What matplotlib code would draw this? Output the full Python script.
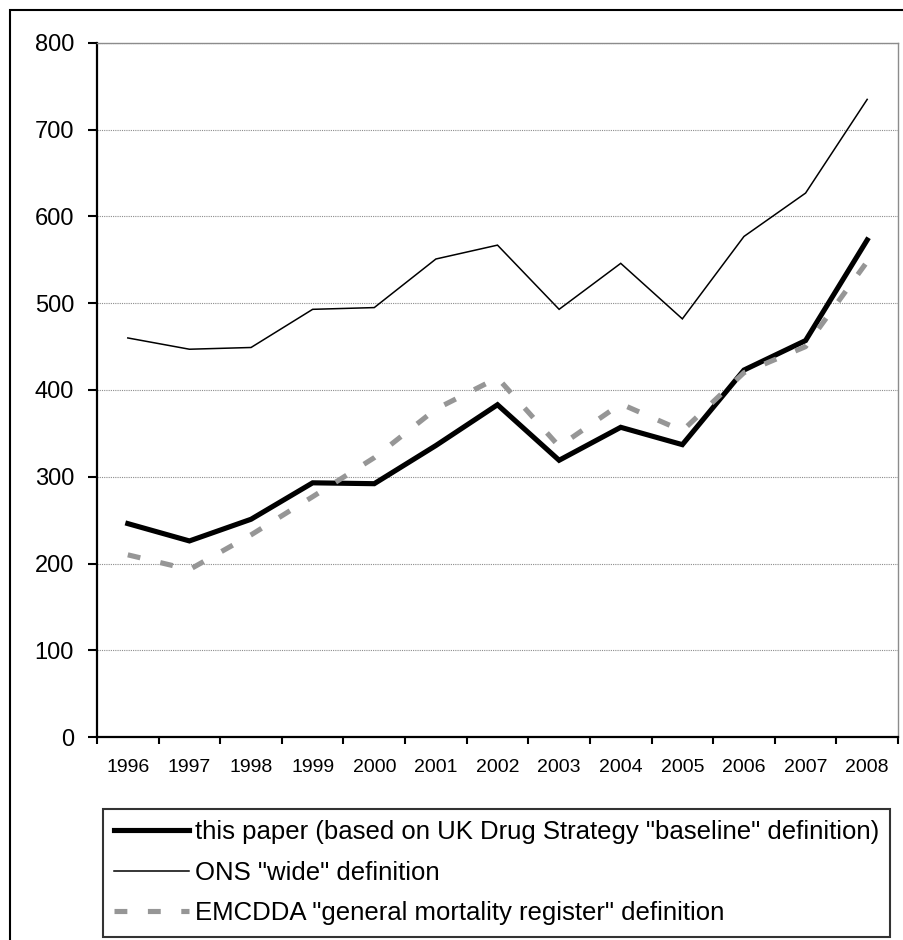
import matplotlib
matplotlib.use("Agg")
import matplotlib.pyplot as plt
from matplotlib.patches import Rectangle

years = ["1996", "1997", "1998", "1999", "2000", "2001", "2002",
         "2003", "2004", "2005", "2006", "2007", "2008"]
this_paper = [246, 226, 251, 293, 292, 336, 383, 319, 357, 337, 423, 457, 573]
ons_wide = [460, 447, 449, 493, 495, 551, 567, 493, 546, 482, 577, 627, 735]
emcdda = [210, 193, 233, 277, 322, 378, 414, 335, 384, 353, 420, 450, 548]

labels = ['this paper (based on UK Drug Strategy "baseline" definition)',
          'ONS "wide" definition',
          'EMCDDA "general mortality register" definition']

plt.rcParams['font.family'] = ['Liberation Sans', 'DejaVu Sans']

W, H = 904, 940
fig = plt.figure(figsize=(W / 100, H / 100), dpi=100)

# outer chart-area border (left and top visible)
fig.patches.append(Rectangle((10 / W, -0.1), 1.2, 1.1 - 10 / H,
                             transform=fig.transFigure, fill=False,
                             edgecolor='black', linewidth=1.5))

ax = fig.add_axes([97 / W, (H - 737) / H, (898 - 97) / W, (737 - 43) / H])

x = list(range(len(years)))
l1, = ax.plot(x, this_paper, color='black', linewidth=3.7,
              solid_joinstyle='miter', label=labels[0], zorder=4)
l2, = ax.plot(x, ons_wide, color='black', linewidth=1.1,
              solid_joinstyle='miter', label=labels[1], zorder=3)
l3, = ax.plot(x, emcdda, color='#969696', linewidth=3.7,
              dashes=(2.5, 4.0), dash_capstyle='butt', label=labels[2], zorder=5)

ax.set_xlim(-0.5, len(years) - 0.5)
ax.set_ylim(0, 800)

ax.set_yticks(range(0, 801, 100))
ax.set_yticklabels([str(v) for v in range(0, 801, 100)], fontsize=17)
ax.tick_params(axis='y', direction='out', length=6.5, width=1.5, pad=10)

ax.set_xticks([i - 0.5 for i in range(len(years) + 1)])
ax.set_xticklabels([])
ax.set_xticks(x, minor=True)
ax.set_xticklabels(years, minor=True, fontsize=14)
ax.tick_params(axis='x', which='major', direction='out', length=5, width=1.5)
ax.tick_params(axis='x', which='minor', length=0, pad=16)

ax.yaxis.grid(True, color='#8c8c8c', linewidth=0.8, linestyle=(0, (1, 1)))
ax.set_axisbelow(True)

for s in ['left', 'bottom']:
    ax.spines[s].set_color('black')
    ax.spines[s].set_linewidth(1.6)
for s in ['top', 'right']:
    ax.spines[s].set_color('#8c8c8c')
    ax.spines[s].set_linewidth(1.0)

leg = fig.legend(handles=[l1, l2, l3], labels=labels,
                 loc='upper left', bbox_to_anchor=(103 / W, 1 - 809 / H),
                 bbox_transform=fig.transFigure,
                 fontsize=18.5, frameon=True, fancybox=False,
                 edgecolor='black', handlelength=2.9, handletextpad=0.23,
                 labelspacing=0.64, borderpad=0.44, borderaxespad=0)
leg.get_frame().set_linewidth(1.5)

fig.savefig("out.png", dpi=100)
